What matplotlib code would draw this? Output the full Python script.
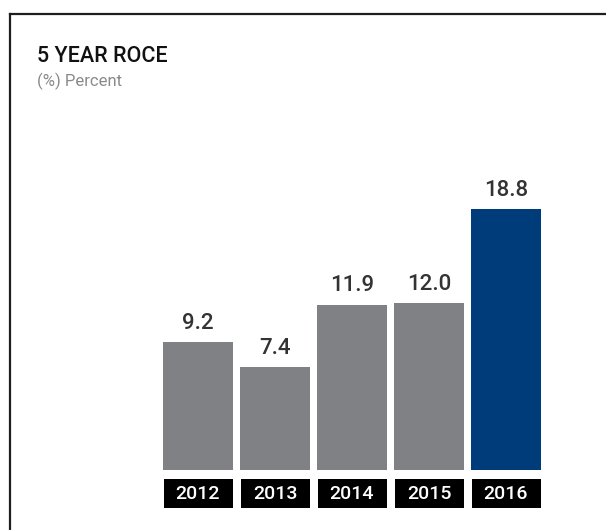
import matplotlib
matplotlib.use("Agg")
import matplotlib.pyplot as plt
from matplotlib.patches import Rectangle
from matplotlib.lines import Line2D
import matplotlib.transforms as mtransforms

years = ["2012", "2013", "2014", "2015", "2016"]
roce = [9.2, 7.4, 11.9, 12.0, 18.8]
bar_colors = ["#808184", "#808184", "#808184", "#808184", "#003b7a"]

title = "5 YEAR ROCE"
subtitle = "(%) Percent"

W, H = 606, 530
fig = plt.figure(figsize=(W / 100, H / 100), dpi=100)
plt.rcParams["font.family"] = ["Roboto", "DejaVu Sans"]


def fx(px):
    return px / W


def fy(py):
    return 1 - py / H


# frame lines (top and left)
fig.add_artist(Line2D([fx(9.5), 1.0], [fy(13.5), fy(13.5)], color="#1e1e1e", lw=1.6))
fig.add_artist(Line2D([fx(9.5), fx(9.5)], [fy(13.5), 0.0], color="#1e1e1e", lw=1.6))

fig.text(fx(37), fy(56), title, fontsize=15.5, color="#111111", va="center",
         ha="left", fontweight="medium")
fig.text(fx(37), fy(81), subtitle, fontsize=12, color="#8a8a8a", va="center", ha="left")

# plotting area: bars centred at 0..4, 77 px pitch
ymax = 20
px_per_unit = 13.86
ax_left, ax_right = 159.5, 544.5
ax_bottom = 469.5
ax_top = ax_bottom - ymax * px_per_unit
ax = fig.add_axes([fx(ax_left), fy(ax_bottom), fx(ax_right - ax_left), (ax_bottom - ax_top) / H])
ax.set_xlim(-0.5, 4.5)
ax.set_ylim(0, ymax)
ax.axis("off")

xs = list(range(len(years)))
bars = ax.bar(xs, roce, width=70 / 77, color=bar_colors, linewidth=0)
for x, v in zip(xs, roce):
    ax.annotate(f"{v:.1f}", (x, v), xytext=(0, 6), textcoords="offset points",
                ha="center", va="bottom", fontsize=16, color="#333333",
                fontweight="medium")

# year label boxes below the bars
trans = mtransforms.blended_transform_factory(ax.transData, fig.transFigure)
box_w = 69 / 77
for x, yr in zip(xs, years):
    ax.add_patch(Rectangle((x - box_w / 2, fy(508)), box_w, fy(479) - fy(508),
                           transform=trans, facecolor="black", edgecolor="none",
                           clip_on=False))
    ax.text(x, fy(494), yr, transform=trans, ha="center", va="center",
            fontsize=14, color="white", clip_on=False, fontweight="medium")

fig.savefig("out.png", dpi=100, facecolor="white")
